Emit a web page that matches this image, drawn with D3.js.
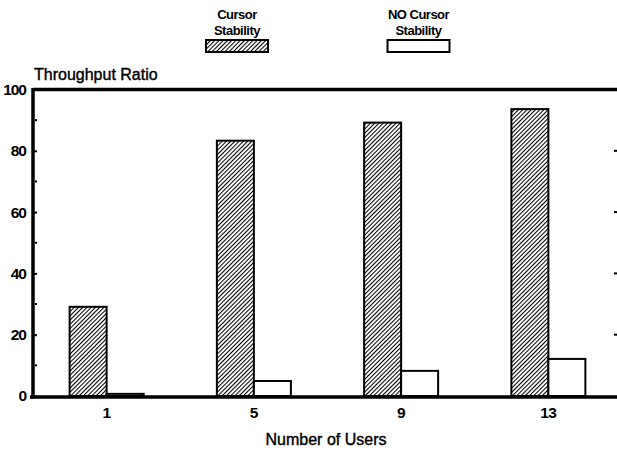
<!DOCTYPE html>
<html>
<head>
<meta charset="utf-8">
<script src="https://cdn.jsdelivr.net/npm/d3@7"></script>
<style>
  body { margin: 0; background: #fff; }
  svg { display: block; font-family: "Liberation Sans", Arial, sans-serif; }
</style>
</head>
<body>
<svg id="chart" width="617" height="450"></svg>
<script>
const categories = ["1", "5", "9", "13"];
const seriesNames = ["Cursor Stability", "NO Cursor Stability"];
const cursorStability = [29.1, 83.3, 89.2, 93.6];
const noCursorStability = [0.7, 4.9, 8.2, 12.1];
const yTicks = [0, 20, 40, 60, 80, 100];
const yMinorTicks = [10, 30, 50, 70, 90];
const rightTicks = [20, 40, 60, 80];

(function () {
const svg = d3.select("#chart");
const mLeft = 33, mRight = 617, mTop = 89.5, mBottom = 396;

const defs = svg.append("defs");
const pat = defs.append("pattern")
  .attr("id", "hatch")
  .attr("patternUnits", "userSpaceOnUse")
  .attr("width", 3).attr("height", 3)
  .attr("patternTransform", "rotate(45)");
pat.append("rect").attr("width", 3).attr("height", 3).attr("fill", "#fff");
pat.append("line").attr("x1", 0).attr("y1", 0).attr("x2", 0).attr("y2", 3)
  .attr("stroke", "#000").attr("stroke-width", 2.1);

const x = d3.scaleBand().domain(categories).range([mLeft, 622]).padding(0);
const x1 = d3.scaleBand().domain(seriesNames).range([0, x.bandwidth()])
  .paddingInner(0).paddingOuter(0.99);
const y = d3.scaleLinear().domain([0, 100]).range([mBottom, mTop]);

const data = categories.map((c, i) => ({
  cat: c,
  vals: [
    { key: seriesNames[0], v: cursorStability[i] },
    { key: seriesNames[1], v: noCursorStability[i] }
  ]
}));

// bars
const g = svg.append("g");
g.selectAll("g.grp").data(data).join("g")
  .attr("class", "grp")
  .attr("transform", d => `translate(${x(d.cat)},0)`)
  .selectAll("rect").data(d => d.vals).join("rect")
  .attr("x", d => x1(d.key))
  .attr("width", x1.bandwidth())
  .attr("y", d => y(d.v))
  .attr("height", d => y(0) - y(d.v))
  .attr("fill", d => d.key === seriesNames[0] ? "url(#hatch)" : "#fff")
  .attr("stroke", "#000")
  .attr("stroke-width", 2);

// frame lines
svg.append("line").attr("x1", mLeft).attr("x2", mRight).attr("y1", y(100)).attr("y2", y(100))
  .attr("stroke", "#000").attr("stroke-width", 3.5);
svg.append("line").attr("x1", 30).attr("x2", mRight).attr("y1", y(0) + 1).attr("y2", y(0) + 1)
  .attr("stroke", "#000").attr("stroke-width", 3.5);
svg.append("line").attr("x1", mLeft).attr("x2", mLeft).attr("y1", y(100) - 1.5).attr("y2", y(0) + 2.5)
  .attr("stroke", "#000").attr("stroke-width", 3.5);

// left axis ticks (inward) and labels
const yAxis = d3.axisLeft(y).tickValues(yTicks).tickSize(-4).tickPadding(7).tickFormat(d3.format("d"));
const ya = svg.append("g").attr("transform", `translate(${mLeft},0)`).call(yAxis);
ya.select(".domain").remove();
ya.selectAll(".tick line").attr("stroke", "#000").attr("stroke-width", 2);
ya.selectAll(".tick text").attr("font-size", 15.5).attr("font-weight", "bold").attr("fill", "#000")
  .attr("letter-spacing", "-1");

// minor dots
svg.append("g").selectAll("rect").data(yMinorTicks).join("rect")
  .attr("x", mLeft + 2).attr("width", 2).attr("y", d => y(d) - 1).attr("height", 2).attr("fill", "#000");
// right dots
svg.append("g").selectAll("rect").data(rightTicks).join("rect")
  .attr("x", 614).attr("width", 3).attr("y", d => y(d) - 1).attr("height", 2).attr("fill", "#000");

// x axis labels
const xAxis = d3.axisBottom(x).tickSize(0).tickPadding(11);
const xa = svg.append("g").attr("transform", `translate(0,${y(0)})`).call(xAxis);
xa.select(".domain").remove();
xa.selectAll(".tick text").attr("font-size", 15.5).attr("font-weight", "bold").attr("fill", "#000")
  .attr("letter-spacing", "-0.5");

// titles
svg.append("text").attr("x", 34).attr("y", 80).attr("font-size", 16).attr("fill", "#000")
  .attr("stroke", "#000").attr("stroke-width", 0.4)
  .text("Throughput Ratio");
svg.append("text").attr("x", 326).attr("y", 445).attr("text-anchor", "middle")
  .attr("stroke", "#000").attr("stroke-width", 0.4)
  .attr("font-size", 16).attr("fill", "#000").text("Number of Users");

// legend
const legendItems = [
  { lines: ["Cursor", "Stability"], cx: 237, fill: "url(#hatch)" },
  { lines: ["NO Cursor", "Stability"], cx: 418.5, fill: "#fff" }
];
const lg = svg.append("g").selectAll("g").data(legendItems).join("g");
lg.each(function(d) {
  const s = d3.select(this);
  d.lines.forEach((t, i) => {
    s.append("text").attr("x", d.cx).attr("y", 19 + i * 15.5).attr("text-anchor", "middle")
      .attr("font-size", 13).attr("font-weight", "bold").attr("fill", "#000")
      .attr("letter-spacing", "-0.5").text(t);
  });
  s.append("rect").attr("x", d.cx - 31).attr("y", 40).attr("width", 62).attr("height", 12)
    .attr("fill", d.fill).attr("stroke", "#000").attr("stroke-width", 2);
});
})();
</script>
</body>
</html>
